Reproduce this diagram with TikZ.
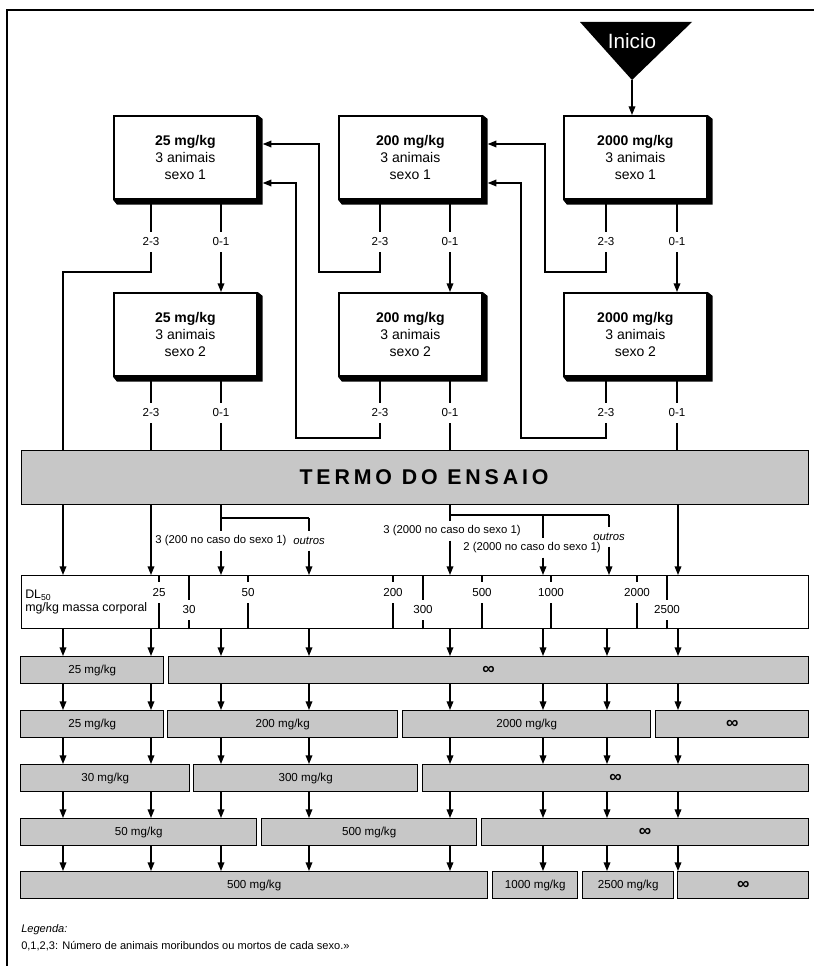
\documentclass[tikz,border=0pt]{standalone}
\usepackage{fontspec}
\setmainfont{Liberation Sans}
\usetikzlibrary{arrows.meta,calc}
\newcommand\boxshadow[1]{\fill (#1.north east) -- ($(#1.north east)+(5,4)$) -- ($(#1.south east)+(5,5)$) -- ($(#1.south west)+(4,5)$) -- (#1.south west) -- (#1.south east) -- cycle;}
\newcommand\gbar[5]{\node[gbar,minimum width={(#3-#2)*0.75pt}] (#1) at (#2,#4) {#5};}
\newcommand\infsym{{\fontsize{13}{13}\selectfont\bfseries ∞}}
\begin{document}
\begin{tikzpicture}[x=0.75pt,y=-0.75pt,
  conn/.style={line width=1pt},
  arr/.style={conn,-{Triangle[length=6.5pt,width=5pt]}},
  dbox/.style={draw,line width=1.3pt,fill=white,minimum width=107.25pt,minimum height=62.25pt,align=center,inner sep=0pt,anchor=north west,font=\fontsize{10.5}{12.5}\selectfont},
  lbl/.style={inner sep=0pt,minimum height=15pt,font=\fontsize{8.7}{10}\selectfont},
  note/.style={inner sep=1pt,minimum height=14pt,font=\fontsize{8.5}{10}\selectfont},
  gbar/.style={draw,line width=1pt,fill=black!22,minimum height=20.25pt,inner sep=0pt,anchor=north west,font=\fontsize{8.7}{10}\selectfont},
  num/.style={inner sep=0pt,minimum height=15pt,font=\fontsize{8.7}{10}\selectfont}
]
\fill[white] (0,0) rectangle (814,966);
\useasboundingbox (0,0) rectangle (814,966);
% frame
\draw[line width=1.1pt] (7,966) -- (7,10) -- (814,10);
% start
\fill (580,22) -- (692,22) -- (632,80) -- cycle;
\node[text=white,font=\fontsize{15.5}{17}\selectfont] (ini) at (632,41) {Inicio};
\coordinate (apex) at (632,80);
% boxes
\node[dbox] (ba1) at (113,115) {\textbf{25 mg/kg}\\3 animais\\sexo 1};
\node[dbox] (bb1) at (338,115) {\textbf{200 mg/kg}\\3 animais\\sexo 1};
\node[dbox] (bc1) at (563,115) {\textbf{2000 mg/kg}\\3 animais\\sexo 1};
\node[dbox] (ba2) at (113,292) {\textbf{25 mg/kg}\\3 animais\\sexo 2};
\node[dbox] (bb2) at (338,292) {\textbf{200 mg/kg}\\3 animais\\sexo 2};
\node[dbox] (bc2) at (563,292) {\textbf{2000 mg/kg}\\3 animais\\sexo 2};
\boxshadow{ba1}\boxshadow{bb1}\boxshadow{bc1}
\boxshadow{ba2}\boxshadow{bb2}\boxshadow{bc2}
\coordinate (ba1r) at ($(ba1.east)+(5,0)$);
\coordinate (bb1r) at ($(bb1.east)+(5,0)$);
\draw[arr] (apex) -- (apex |- bc1.north);
% labels
\node[lbl] (ta123) at (151,242) {2-3};
\node[lbl] (ta101) at (221,242) {0-1};
\node[lbl] (tb123) at (380,242) {2-3};
\node[lbl] (tb101) at (450,242) {0-1};
\node[lbl] (tc123) at (606,242) {2-3};
\node[lbl] (tc101) at (677,242) {0-1};
\node[lbl] (ta223) at (151,413) {2-3};
\node[lbl] (ta201) at (221,413) {0-1};
\node[lbl] (tb223) at (380,413) {2-3};
\node[lbl] (tb201) at (450,413) {0-1};
\node[lbl] (tc223) at (606,413) {2-3};
\node[lbl] (tc201) at (677,413) {0-1};
% termo
\node[draw,line width=1pt,fill=black!22,anchor=north west,minimum width={787*0.75pt},minimum height={54*0.75pt},inner sep=0pt] (termo) at (21,450) {};
\node[font=\bfseries\fontsize{16}{18}\selectfont\addfontfeature{LetterSpace=18}] (termotxt) at (424,477) {TERMO DO ENSAIO};
% row 1 connectors
\foreach \n/\b in {ta123/ba1,ta101/ba1,tb123/bb1,tb101/bb1,tc123/bc1,tc101/bc1,ta223/ba2,ta201/ba2,tb223/bb2,tb201/bb2,tc223/bc2,tc201/bc2}
  \draw[conn] (\b.south -| \n) -- (\n.north);
\draw[conn] (ta123.south) |- (63,272) -- (63,272 |- termo.north);
\draw[arr] (ta101.south) -- (ta101.south |- ba2.north);
\draw[arr] (tb123.south) |- (319,272) -- (319,144) -- (ba1r |- 319,144);
\draw[arr] (tb101.south) -- (tb101.south |- bb2.north);
\draw[arr] (tc123.south) |- (545,272) -- (545,144) -- (bb1r |- 545,144);
\draw[arr] (tc101.south) -- (tc101.south |- bc2.north);
% row 2 connectors
\draw[conn] (ta223.south) -- (ta223.south |- termo.north);
\draw[conn] (ta201.south) -- (ta201.south |- termo.north);
\draw[arr] (tb223.south) |- (296,438) -- (296,183) -- (ba1r |- 296,183);
\draw[conn] (tb201.south) -- (tb201.south |- termo.north);
\draw[arr] (tc223.south) |- (521,438) -- (521,183) -- (bb1r |- 521,183);
\draw[conn] (tc201.south) -- (tc201.south |- termo.north);
% scale bar
\node[draw,line width=1pt,anchor=north west,minimum width={787*0.75pt},minimum height={53*0.75pt},inner sep=0pt] (scale) at (21,575) {};
\node[anchor=west,inner sep=0pt,font=\fontsize{9.3}{10}\selectfont] (dl) at (25,595) {DL\textsubscript{50}};
\node[anchor=west,inner sep=0pt,font=\fontsize{9.3}{10}\selectfont] (dlu) at (25,608) {mg/kg massa corporal};
\foreach \x/\t in {159/25,248/50,393/200,482/500,551/1000,637/2000}{
  \node[num] (s\t) at (\x,593) {\t};
  \draw[conn] (s\t |- scale.north) -- ++(0,7);
  \draw[conn] (s\t.south) -- (s\t |- scale.south);
}
\foreach \x/\t in {189/30,423/300,667/2500}{
  \node[num] (s\t) at (\x,610) {\t};
  \draw[conn] (s\t |- scale.north) -- (s\t.north);
  \draw[conn] (s\t |- scale.south) -- ++(0,-9);
}
% below termo
\node[note] (nA) at (221,541) {3 (200 no caso do sexo 1)};
\node[note,font=\itshape\fontsize{8.5}{10}\selectfont] (oA) at (309,541) {outros};
\node[note] (nB1) at (452,531) {3 (2000 no caso do sexo 1)};
\node[note] (nB2) at (532,548) {2 (2000 no caso do sexo 1)};
\node[note,font=\itshape\fontsize{8.5}{10}\selectfont] (oB) at (609,537) {outros};
\draw[arr] (termo.south -| 63,0) -- (scale.north -| 63,0);
\draw[arr] (termo.south -| 151,0) -- (scale.north -| 151,0);
\draw[conn] (termo.south -| 221,0) -- (221,518) -- (309,518);
\draw[conn] (221,518) -- (nA.north);
\draw[arr] (nA.south) -- (nA.south |- scale.north);
\draw[conn] (309,518) -- (oA.north);
\draw[arr] (oA.south) -- (oA.south |- scale.north);
\draw[conn] (termo.south -| 450,0) -- (450,515) -- (609,515);
\draw[conn] (450,515) -- (450,515 |- nB1.north);
\draw[arr] (nB1.south -| 450,0) -- (scale.north -| 450,0);
\draw[conn] (543,515) -- (543,515 |- nB2.north);
\draw[arr] (nB2.south -| 543,0) -- (scale.north -| 543,0);
\draw[conn] (609,515) -- (oB.north);
\draw[arr] (oB.south) -- (oB.south |- scale.north);
\draw[arr] (termo.south -| 678,0) -- (scale.north -| 678,0);
% gray rows
\coordinate (r1t) at (0,656); \coordinate (r1b) at (0,683);
\coordinate (r2t) at (0,710); \coordinate (r2b) at (0,737);
\coordinate (r3t) at (0,764); \coordinate (r3b) at (0,791);
\coordinate (r4t) at (0,818); \coordinate (r4b) at (0,845);
\coordinate (r5t) at (0,871); \coordinate (r5b) at (0,898);
\gbar{g11}{20}{163}{656}{25 mg/kg}
\gbar{g12}{168}{808}{656}{\infsym}
\gbar{g21}{20}{163}{710}{25 mg/kg}
\gbar{g22}{167}{397}{710}{200 mg/kg}
\gbar{g23}{402}{650}{710}{2000 mg/kg}
\gbar{g24}{655}{808}{710}{\infsym}
\gbar{g31}{20}{189}{764}{30 mg/kg}
\gbar{g32}{193}{417}{764}{300 mg/kg}
\gbar{g33}{422}{808}{764}{\infsym}
\gbar{g41}{20}{256}{818}{50 mg/kg}
\gbar{g42}{261}{476}{818}{500 mg/kg}
\gbar{g43}{481}{808}{818}{\infsym}
\gbar{g51}{20}{487}{871}{500 mg/kg}
\gbar{g52}{492}{577}{871}{1000 mg/kg}
\gbar{g53}{582}{673}{871}{2500 mg/kg}
\gbar{g54}{677}{808}{871}{\infsym}
\foreach \c in {63,151,221,309,450,543,607,678}{
  \draw[arr] (scale.south -| \c,0) -- (r1t -| \c,0);
  \draw[arr] (r1b -| \c,0) -- (r2t -| \c,0);
  \draw[arr] (r2b -| \c,0) -- (r3t -| \c,0);
  \draw[arr] (r3b -| \c,0) -- (r4t -| \c,0);
  \draw[arr] (r4b -| \c,0) -- (r5t -| \c,0);
}
% legend
\node[anchor=west,inner sep=0pt,font=\itshape\fontsize{8.3}{10}\selectfont] (leg) at (21,930) {Legenda:};
\node[anchor=west,inner sep=0pt,font=\fontsize{8.3}{10}\selectfont] (legt) at (21,946) {0,1,2,3: Número de animais moribundos ou mortos de cada sexo.»};
\end{tikzpicture}
\end{document}
